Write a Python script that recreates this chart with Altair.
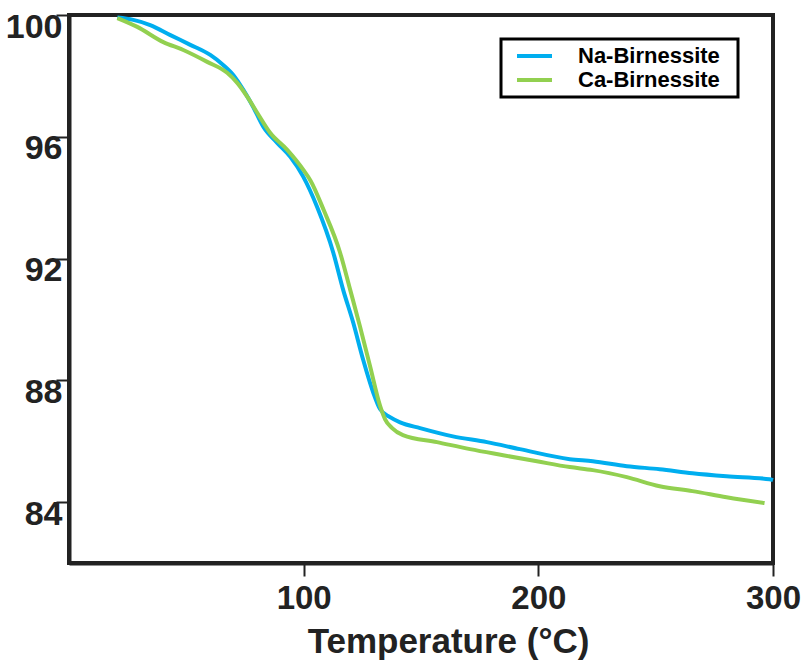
import altair as alt
import pandas as pd

# Data
na_temp = [20.6, 27.4, 34.6, 43.2, 51.7, 60.2, 65.7, 70.0, 74.3, 78.5, 82.8, 88.7, 94.3, 99.8,
           105.7, 112.6, 116.8, 121.1, 125.3, 129.6, 132.6, 136.8, 141.1, 149.6, 163.6, 178.1,
           192.1, 213.4, 223.2, 237.7, 251.7, 265.7, 280.2, 298.5, 300.0]
na_mass = [99.92, 99.84, 99.67, 99.34, 99.02, 98.69, 98.36, 98.03, 97.54, 96.98, 96.33, 95.80,
           95.34, 94.69, 93.70, 92.20, 90.98, 89.90, 88.69, 87.61, 87.05, 86.79, 86.62, 86.43,
           86.16, 85.97, 85.74, 85.41, 85.34, 85.18, 85.08, 84.95, 84.85, 84.75, 84.72]

ca_temp = [20.6, 29.1, 40.2, 48.7, 58.9, 67.4, 71.7, 76.0, 80.2, 85.7, 93.0, 99.8, 103.0,
           108.5, 115.5, 119.8, 124.0, 128.3, 132.6, 134.7, 137.7, 142.3, 156.8, 170.9, 185.0,
           199.4, 213.4, 223.2, 237.7, 251.7, 265.7, 280.2, 296.4]
ca_mass = [99.90, 99.61, 99.11, 98.85, 98.46, 98.10, 97.77, 97.31, 96.79, 96.13, 95.57, 94.92,
           94.55, 93.60, 92.20, 90.98, 89.77, 88.46, 87.15, 86.72, 86.43, 86.20, 85.97, 85.74,
           85.54, 85.34, 85.15, 85.05, 84.82, 84.52, 84.36, 84.16, 83.97]

series_names = ["Na-Birnessite", "Ca-Birnessite"]
series_colors = ["#00AEEF", "#92D050"]
x_ticks = [100, 200, 300]
y_ticks = [84, 88, 92, 96, 100]

df = pd.concat([
    pd.DataFrame({"temp": na_temp, "mass": na_mass, "series": series_names[0]}),
    pd.DataFrame({"temp": ca_temp, "mass": ca_mass, "series": series_names[1]}),
])

FONT = "Liberation Sans"
INK = "#222222"

base = alt.Chart(df).mark_line(strokeWidth=4, interpolate="monotone").encode(
    x=alt.X("temp:Q",
            scale=alt.Scale(domain=[0, 300], nice=False, zero=False),
            axis=alt.Axis(values=x_ticks, title="Temperature (°C)", tickSize=13,
                          labelFontSize=33, labelBaseline="top", labelPadding=6,
                          labelFlush=False, labelOverlap=False,
                          titleFontSize=35, titleX=379, titleY=89,
                          titleBaseline="alphabetic", titleAlign="center")),
    y=alt.Y("mass:Q",
            scale=alt.Scale(domain=[82, 100], nice=False, zero=False),
            axis=alt.Axis(values=y_ticks, title="", tickSize=13,
                          labelFontSize=34, labelBaseline="top", labelAlign="right",
                          labelPadding=-6, labelOffset=-5,
                          labelFlush=False, labelOverlap=False)),
    color=alt.Color("series:N",
                    scale=alt.Scale(domain=series_names, range=series_colors),
                    legend=alt.Legend(title=" ", titleOrient="right", titleFontSize=2,
                                      titlePadding=13,
                                      orient="none", legendX=432, legendY=24,
                                      symbolType="stroke", symbolSize=1225,
                                      symbolStrokeWidth=4, symbolOffset=9,
                                      clipHeight=24,
                                      labelFontSize=22,
                                      labelFontWeight="bold", labelFont=FONT,
                                      labelColor="black", labelOffset=24,
                                      rowPadding=0,
                                      padding=5, strokeColor="black",
                                      fillColor="white")),
)

chart = alt.layer(
    base.transform_filter(alt.datum.series == series_names[0]),
    base.transform_filter(alt.datum.series == series_names[1]),
).properties(
    width=704, height=548,
    autosize=alt.AutoSizeParams(type="none"),
    padding={"left": 69, "top": 15, "right": 36, "bottom": 99},
    background="white",
).configure_view(
    stroke=INK, strokeWidth=4
).configure_axis(
    grid=False, domainColor=INK, domainWidth=4, tickColor=INK, tickWidth=2,
    labelFont=FONT, labelFontWeight="bold", labelColor=INK,
    titleFont=FONT, titleFontWeight="bold", titleColor=INK,
).configure_legend(
    strokeWidth=3
)

chart.save("out.html", embed_options={"renderer": "svg", "actions": False})
